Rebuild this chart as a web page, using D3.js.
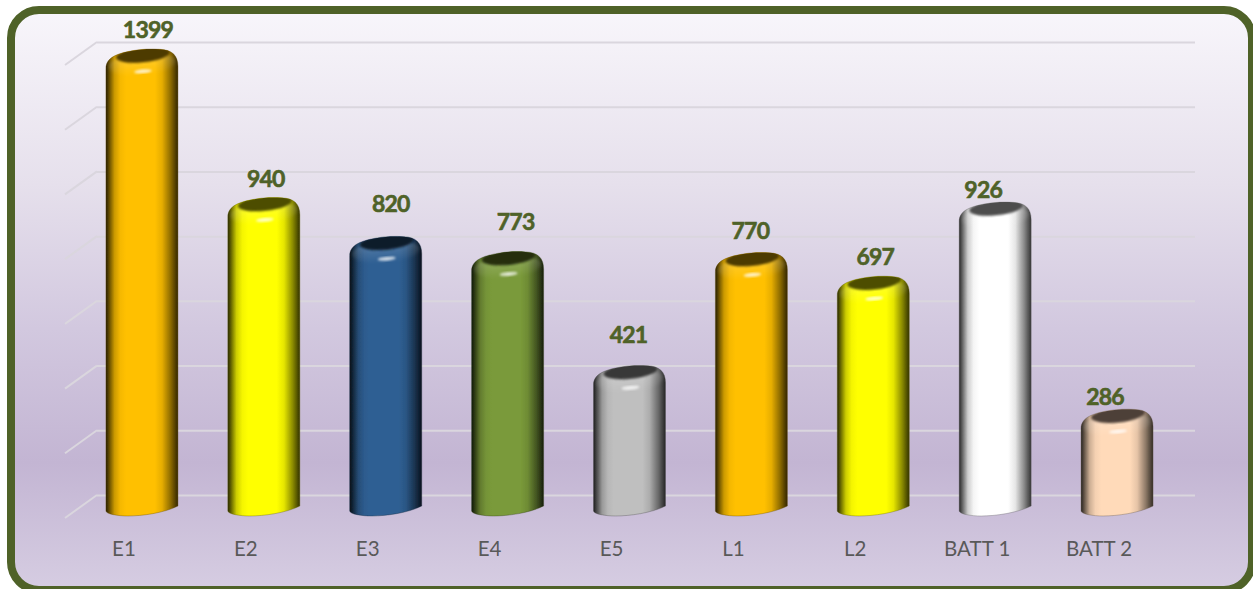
<!DOCTYPE html>
<html>
<head>
<meta charset="utf-8">
<script src="https://cdn.jsdelivr.net/npm/d3@7"></script>
<style>
  html, body { margin: 0; padding: 0; background: #fff; overflow: hidden; }
  svg { display: block; }
</style>
</head>
<body>
<div id="chart"></div>
<script>
let categories = ["E1", "E2", "E3", "E4", "E5", "L1", "L2", "BATT 1", "BATT 2"];
let values = [1399, 940, 820, 773, 421, 770, 697, 926, 286];
let barColors = ["#FFC000", "#FFFF00", "#2F5F93", "#7A9A3A", "#BFBFBF", "#FFC000", "#FFFF00", "#FFFFFF", "#FFDAB9"];
let yTicks = [0, 200, 400, 600, 800, 1000, 1200, 1400];

// data labels were moved by hand in the original
let labelNudgeX = [6, 2, 5, 8, -1, -1, 2, -12, -12];
let labelNudgeY = [0, 0, -14, -11, -12, -3, 0, 7, 7];

let width = 1253, height = 589;

let svg = d3.select("#chart").append("svg")
  .attr("width", width)
  .attr("height", height);

let defs = svg.append("defs");

let bg = defs.append("linearGradient")
  .attr("id", "bg")
  .attr("x1", 0).attr("y1", 0).attr("x2", 0).attr("y2", 1);
[[0, "#F8F6FB"], [0.3, "#E6E0EC"], [0.55, "#D2C8DF"], [0.78, "#C3B5D3"], [1, "#D6CDE2"]].forEach(function (s) {
  bg.append("stop").attr("offset", s[0]).attr("stop-color", s[1]);
});

defs.append("filter").attr("id", "soft").append("feGaussianBlur").attr("stdDeviation", 1);
defs.append("filter").attr("id", "softer").append("feGaussianBlur").attr("stdDeviation", 1.6);
defs.append("filter").attr("id", "edge").append("feGaussianBlur").attr("stdDeviation", 0.35);

svg.append("rect")
  .attr("x", 11).attr("y", 10)
  .attr("width", 1241).attr("height", 580)
  .attr("rx", 28).attr("ry", 28)
  .attr("fill", "url(#bg)")
  .attr("stroke", "#4F6228")
  .attr("stroke-width", 8);

let y = d3.scaleLinear().domain([0, 1400]).range([495, 42]);
let x = d3.scaleBand().domain(categories).range([81, 1178]).paddingInner(0).paddingOuter(0);
let barW = 72;

// back wall gridlines
let yAxis = d3.axisLeft(y).tickValues(yTicks).tickSize(1098).tickFormat("");
let grid = svg.append("g")
  .attr("class", "y_axis")
  .attr("transform", "translate(1195, 0)")
  .call(yAxis);
grid.select(".domain").remove();
grid.selectAll("line").attr("stroke", "#DAD6DE").attr("stroke-width", 2);

// side wall ticks
svg.append("g").selectAll("line")
  .data(yTicks)
  .enter()
  .append("line")
  .attr("x1", 97)
  .attr("y1", function (d) { return y(d); })
  .attr("x2", 65)
  .attr("y2", function (d) { return y(d) + 23; })
  .attr("stroke", "#DAD6DE")
  .attr("stroke-width", 2);

function mix(c, target, t) {
  return d3.interpolateRgb(c, target)(t);
}

function body_path(x0, t, yb) {
  let x1 = x0 + barW;
  let p = d3.path();
  p.moveTo(x0, yb - 5);
  p.lineTo(x0, t + 19);
  p.bezierCurveTo(x0, t + 8, x0 + 12, t + 4, x0 + 26, t + 1.5);
  p.bezierCurveTo(x0 + 36, t - 0.5, x0 + 46, t - 0.5, x0 + 54, t);
  p.bezierCurveTo(x1 - 6, t + 0.5, x1, t + 6, x1, t + 17);
  p.lineTo(x1, yb - 10);
  p.bezierCurveTo(x1 - 14, yb - 3, x0 + 36, yb, x0 + 22, yb);
  p.bezierCurveTo(x0 + 12, yb, x0, yb - 2, x0, yb - 5);
  p.closePath();
  return p.toString();
}

let bars = svg.append("g").attr("class", "bars");

categories.forEach(function (cat, i) {
  let c = barColors[i];
  let x0 = x(cat) + (x.bandwidth() - barW) / 2;
  let t = y(values[i]) + 7;
  let yb = y(0) + 21;
  let dark = mix(c, "#000", 0.7);
  let outline = body_path(x0, t, yb);

  let grad = defs.append("linearGradient")
    .attr("id", "body" + i)
    .attr("x1", 0).attr("y1", 0).attr("x2", 1).attr("y2", 0);
  [[0, 0.85], [0.05, 0.58], [0.12, 0.2], [0.2, 0.04], [0.28, 0], [0.68, 0], [0.78, 0.1], [0.9, 0.45], [1, 0.8]].forEach(function (s) {
    grad.append("stop").attr("offset", s[0]).attr("stop-color", mix(c, "#000", s[1]));
  });

  let sh = defs.append("linearGradient")
    .attr("id", "shoulder" + i)
    .attr("x1", 0).attr("y1", 0).attr("x2", 0).attr("y2", 1);
  sh.append("stop").attr("offset", 0).attr("stop-color", "#fff").attr("stop-opacity", 0.2);
  sh.append("stop").attr("offset", 1).attr("stop-color", "#fff").attr("stop-opacity", 0);

  defs.append("clipPath")
    .attr("id", "clip" + i)
    .append("path")
    .attr("d", outline);

  let g = bars.append("g");

  g.append("path")
    .attr("d", outline)
    .attr("fill", "url(#body" + i + ")")
    .attr("stroke", mix(c, "#000", 0.6))
    .attr("stroke-opacity", 0.45)
    .attr("stroke-width", 0.8)
    .attr("filter", "url(#edge)");

  let inner = g.append("g").attr("clip-path", "url(#clip" + i + ")");

  // light rim under the lid
  inner.append("ellipse")
    .attr("cx", x0 + 36).attr("cy", t + 15)
    .attr("rx", 34).attr("ry", 11)
    .attr("transform", "rotate(-5 " + (x0 + 36) + " " + (t + 15) + ")")
    .attr("fill", "url(#shoulder" + i + ")")
    .attr("filter", "url(#softer)");

  // dark lid
  inner.append("ellipse")
    .attr("cx", x0 + 37).attr("cy", t + 5.5)
    .attr("rx", 27).attr("ry", 7.5)
    .attr("transform", "rotate(-6 " + (x0 + 37) + " " + (t + 5.5) + ")")
    .attr("fill", dark)
    .attr("filter", "url(#soft)");

  // highlight
  g.append("ellipse")
    .attr("cx", x0 + 37).attr("cy", t + 22)
    .attr("rx", 9).attr("ry", 2)
    .attr("transform", "rotate(-5 " + (x0 + 37) + " " + (t + 22) + ")")
    .attr("fill", mix(c, "#fff", 0.75))
    .attr("filter", "url(#soft)");
});

// category labels
let xAxis = d3.axisBottom(x).tickSize(0).tickPadding(0);
let xg = svg.append("g")
  .attr("class", "x_axis")
  .attr("transform", "translate(-18, 541)")
  .call(xAxis);
xg.select(".domain").remove();
xg.selectAll("text")
  .attr("fill", "#595959")
  .style("font-family", "Lato, 'Open Sans', sans-serif")
  .style("font-size", "20.5px");

// data labels
svg.append("g").selectAll("text")
  .data(values)
  .enter()
  .append("text")
  .attr("x", function (d, i) { return x(categories[i]) + x.bandwidth() / 2 + labelNudgeX[i]; })
  .attr("y", function (d, i) { return y(d) - 4 + labelNudgeY[i]; })
  .attr("text-anchor", "middle")
  .attr("fill", "#4F6228")
  .attr("stroke", "#4F6228")
  .attr("stroke-width", 0.6)
  .style("font-family", "Lato, 'Open Sans', sans-serif")
  .style("font-weight", 700)
  .style("font-size", "23px")
  .style("letter-spacing", "-0.8px")
  .text(function (d) { return d; });
</script>
</body>
</html>
